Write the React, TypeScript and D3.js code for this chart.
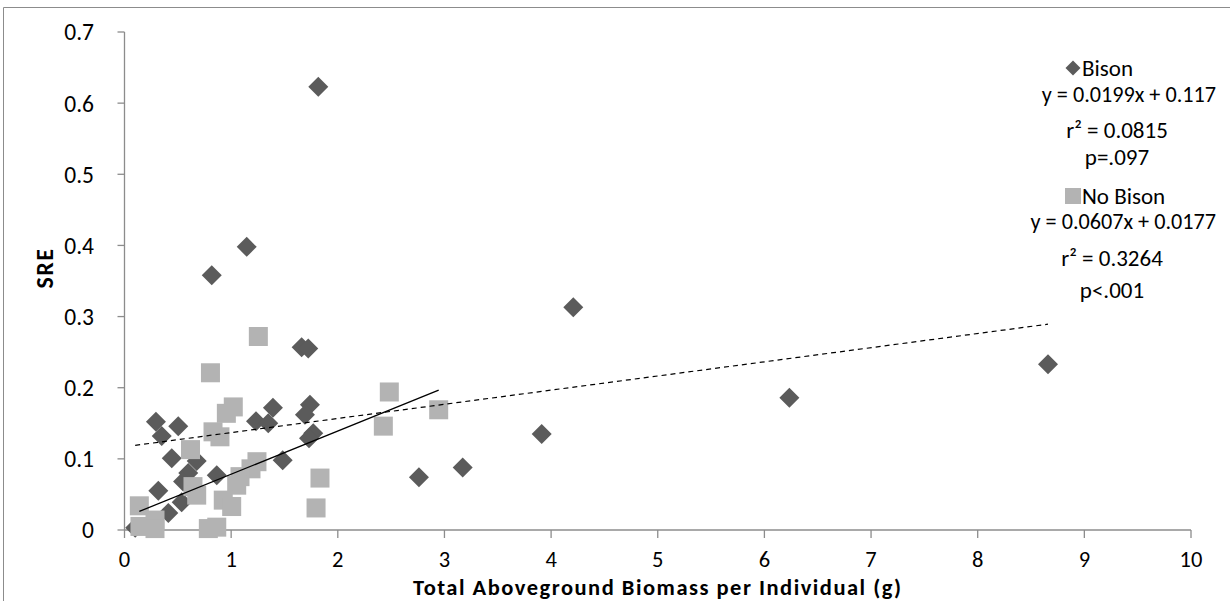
import React from "react";
import * as d3 from "d3";

const bisonX = [0.10, 0.295, 0.349, 0.504, 1.392, 1.233, 1.348, 1.739, 1.692, 0.443, 0.677, 1.77, 1.73, 1.483, 0.865, 0.598, 0.549, 0.317, 0.536, 0.411, 1.817, 1.146, 0.818, 1.661, 1.723, 2.761, 3.171, 3.912, 4.208, 6.234, 8.659];
const bisonY = [0.003, 0.152, 0.132, 0.146, 0.172, 0.153, 0.150, 0.176, 0.162, 0.101, 0.097, 0.136, 0.129, 0.098, 0.077, 0.080, 0.068, 0.055, 0.039, 0.024, 0.623, 0.398, 0.358, 0.257, 0.255, 0.074, 0.088, 0.135, 0.313, 0.186, 0.233];

const noBisonX = [1.255, 0.806, 1.020, 0.955, 0.830, 0.895, 0.619, 1.242, 1.186, 1.083, 1.052, 0.642, 0.677, 0.926, 1.005, 0.139, 0.145, 0.286, 0.286, 0.786, 0.865, 1.833, 1.796, 2.427, 2.483, 2.946];
const noBisonY = [0.272, 0.221, 0.173, 0.164, 0.138, 0.131, 0.113, 0.096, 0.086, 0.075, 0.063, 0.061, 0.049, 0.042, 0.033, 0.034, 0.005, 0.014, 0.002, 0.002, 0.004, 0.073, 0.031, 0.146, 0.194, 0.169];

const xTicks = [0, 1, 2, 3, 4, 5, 6, 7, 8, 9, 10];
const yTicks = [0, 0.1, 0.2, 0.3, 0.4, 0.5, 0.6, 0.7];

const bisonFit = { slope: 0.0199, intercept: 0.117 };
const noBisonFit = { slope: 0.0607, intercept: 0.0177 };

const bisonLabel = ["Bison", "y = 0.0199x + 0.117", "r² = 0.0815", "p=.097"];
const noBisonLabel = ["No Bison", "y = 0.0607x + 0.0177", "r² = 0.3264", "p<.001"];

const xTitle = "Total Aboveground Biomass per Individual (g)";
const yTitle = "SRE";

const FONT = "Carlito, Lato, 'Open Sans', sans-serif";
const DARK = "#5b5b5b";
const LIGHT = "#b3b3b3";
const AXIS = "#8c8c8c";

export default function App() {
  const W = 1230, H = 601;
  const x = d3.scaleLinear().domain([0, 10]).range([124.5, 1191]);
  const y = d3.scaleLinear().domain([0, 0.7]).range([530, 32]);

  const line = d3.line<[number, number]>().x(d => x(d[0])).y(d => y(d[1]));
  const fitPts = (xs: number[], f: { slope: number; intercept: number }): [number, number][] => {
    const [mn, mx] = d3.extent(xs) as [number, number];
    return [[mn, f.slope * mn + f.intercept], [mx, f.slope * mx + f.intercept]];
  };

  const diamond = (cx: number, cy: number, r: number) =>
    `M${cx},${cy - r}L${cx + r},${cy}L${cx},${cy + r}L${cx - r},${cy}Z`;

  const LF = 23;

  return (
    <svg width={W} height={H} style={{ position: "absolute", left: 0, top: 0, background: "#fff" }} fontFamily={FONT}>
      <rect x={0} y={0} width={W} height={H} fill="#fff" />
      {/* chart border */}
      <path d={`M3.5,${H}V7.5H${W}`} fill="none" stroke="#8c8c8c" strokeWidth={1} />

      {/* axes */}
      <line x1={x(0)} x2={x(0)} y1={y(0.7)} y2={y(0)} stroke={AXIS} strokeWidth={1.3} />
      <line x1={x(0)} x2={x(10)} y1={y(0)} y2={y(0)} stroke={AXIS} strokeWidth={1.3} />
      {yTicks.map(t => (
        <g key={"y" + t}>
          <line x1={x(0) - 7} x2={x(0)} y1={y(t)} y2={y(t)} stroke={AXIS} strokeWidth={1.3} />
          <text x={94} y={y(t)} dy="0.36em" textAnchor="end" fontSize={23.5} fill="#000">{t === 0 ? "0" : t.toFixed(1)}</text>
        </g>
      ))}
      {xTicks.map(t => (
        <g key={"x" + t}>
          <line x1={x(t)} x2={x(t)} y1={y(0)} y2={y(0) + 8} stroke={AXIS} strokeWidth={1.3} />
          <text x={x(t)} y={567} textAnchor="middle" fontSize={22.5} fill="#000">{t}</text>
        </g>
      ))}

      {/* axis titles */}
      <text x={(x(0) + x(10)) / 2} y={595} textAnchor="middle" fontSize={22.5} fontWeight="bold" letterSpacing={1.5} fill="#000">{xTitle}</text>
      <text transform={`translate(53,268) rotate(-90)`} textAnchor="middle" fontSize={24} fontWeight="bold" letterSpacing={1.5} fill="#000">{yTitle}</text>

      {/* Bison points */}
      {bisonX.map((v, i) => (
        <path key={"b" + i} d={diamond(x(v), y(bisonY[i]), 10)} fill={DARK} />
      ))}
      {/* No Bison points */}
      {noBisonX.map((v, i) => (
        <rect key={"n" + i} x={x(v) - 9.5} y={y(noBisonY[i]) - 9.5} width={19} height={19} fill={LIGHT} />
      ))}

      {/* trendlines */}
      <path d={line(fitPts(bisonX, bisonFit)) || ""} stroke="#000" strokeWidth={1.2} strokeDasharray="5,4" fill="none" />
      <path d={line(fitPts(noBisonX, noBisonFit)) || ""} stroke="#000" strokeWidth={1.3} fill="none" />

      {/* legend / labels */}
      <path d={diamond(1073, 68, 7.5)} fill={DARK} />
      <text x={1082} y={76} fontSize={LF} fill="#000">{bisonLabel[0]}</text>
      <text x={1216} y={102} textAnchor="end" fontSize={22.2} fill="#000">{bisonLabel[1]}</text>
      <text x={1117} y={138} textAnchor="middle" fontSize={LF} fill="#000">{bisonLabel[2]}</text>
      <text x={1117} y={165} textAnchor="middle" fontSize={LF} fill="#000">{bisonLabel[3]}</text>

      <rect x={1065} y={188} width={16} height={16} fill={LIGHT} />
      <text x={1082} y={204} fontSize={LF} fill="#000">{noBisonLabel[0]}</text>
      <text x={1216} y={229} textAnchor="end" fontSize={22.2} fill="#000">{noBisonLabel[1]}</text>
      <text x={1112} y={266} textAnchor="middle" fontSize={LF} fill="#000">{noBisonLabel[2]}</text>
      <text x={1112} y={298} textAnchor="middle" fontSize={LF} fill="#000">{noBisonLabel[3]}</text>
    </svg>
  );
}
